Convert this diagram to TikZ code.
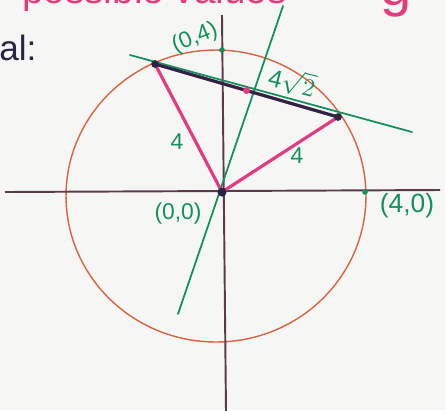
\documentclass[tikz,border=0pt]{standalone}
\usepackage{fontspec}
\setmainfont{Liberation Sans}
\usepackage{tikz}
\usetikzlibrary{calc}
\definecolor{skaxis}{HTML}{5B3A4A}
\definecolor{skcircle}{HTML}{D8643F}
\definecolor{skpink}{HTML}{E23B80}
\definecolor{skgreen}{HTML}{12925A}
\definecolor{skchord}{HTML}{2B2545}
\definecolor{skpaper}{HTML}{F6F6F4}
\tikzset{
  axisline/.style={draw=skaxis,line width=1.1pt},
  circline/.style={draw=skcircle,line width=0.8pt},
  radseg/.style={draw=skpink,line width=1.8pt,line cap=round},
  chordline/.style={draw=skchord,line width=1.7pt,line cap=round},
  greenline/.style={draw=skgreen,line width=1pt,line cap=round},
  glabel/.style={text=skgreen,font=\fontsize{13}{15}\selectfont,inner sep=1pt},
  headtext/.style={text=skpink,font=\fontsize{22}{24}\selectfont,inner sep=0pt}
}

\begin{document}
\begin{tikzpicture}[x=0.02cm,y=-0.02cm]
    \useasboundingbox (0,0) rectangle (445,410);
    \clip (0,0) rectangle (445,410);
    \fill[skpaper] (0,0) rectangle (445,410);
    % points
    \coordinate (O) at (222,192);
    \coordinate (A) at (155,64);
    \coordinate (B) at (338,117);
    \coordinate (M) at ($(A)!0.5!(B)$);
    \coordinate (P40) at (365,192);
    \coordinate (P04) at (222,50);
    \coordinate (xl) at (5,192);
    \coordinate (xr) at (440,190);
    \coordinate (yt) at (222,15);
    \coordinate (yb) at (226,412);
    \coordinate (gl) at (130,55);
    \coordinate (gr) at (412,132);
    \coordinate (pb) at (178,314);
    \coordinate (pt) at (283,6);
    % circle and axes
    \draw[circline] (216,196) ellipse [x radius=3cm,y radius=2.92cm];
    \draw[axisline] (xl) -- (xr);
    \draw[axisline] (yt) -- (yb);
    % lines
    \draw[greenline] (gl) -- (gr);
    \draw[greenline] (pb) -- (pt);
    \draw[radseg] (O) -- (A);
    \draw[radseg] (O) -- (B);
    \draw[radseg] (A) -- (B);
    \draw[chordline] (A) -- (B);
    % dots
    \fill[skchord] (O) circle (2.6pt);
    \fill[skchord] (A) circle (2.2pt);
    \fill[skchord] (B) circle (2.2pt);
    \fill[skpink] (M) circle (2pt);
    \fill[skgreen] (P40) circle (1.6pt);
    \fill[skgreen] (P04) circle (1.6pt);
    % labels
    \node[glabel,rotate=22] (l04) at (195,38) {(0,4)};
    \node[glabel,font=\fontsize{14}{16}\selectfont,rotate=-14] (lchord) at (292,82) {4$\sqrt{2}$};
    \node[glabel] (lra) at (177,142) {4};
    \node[glabel] (lrb) at (297,156) {4};
    \node[glabel] (l00) at (178,214) {(0,0)};
    \node[glabel,font=\fontsize{15}{17}\selectfont] (l40) at (407,206) {(4,0)};
    \node[headtext,anchor=base west] (head) at (22,3) {possible values};
    \node[headtext,font=\fontsize{32}{34}\selectfont,anchor=base] (headg) at (396,5) {g};
    \node[text=skchord,font=\fontsize{20}{22}\selectfont,anchor=base west,inner sep=0pt] (sol) at (-1,60) {al:};
\end{tikzpicture}
\end{document}
